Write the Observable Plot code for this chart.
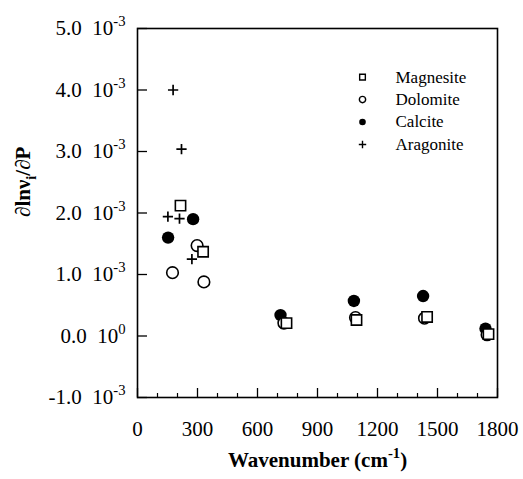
<!DOCTYPE html>
<html><head><meta charset="utf-8">
<script src="https://cdn.jsdelivr.net/npm/d3@7"></script>
<script src="https://cdn.jsdelivr.net/npm/@observablehq/plot@0.6"></script>
<style>
html,body{margin:0;padding:0;background:#fff;}
#chart svg, #chart svg text { font-family: "Liberation Serif", "DejaVu Serif", serif !important; }
</style></head><body><div id="chart"></div>
<script>
// Data (y in units of 1e-3)
const magnesiteX = [215, 328, 745, 1095, 1448, 1755];
const magnesiteY = [2.12, 1.37, 0.21, 0.26, 0.31, 0.03];
const dolomiteX = [175, 298, 332, 732, 1090, 1435, 1748];
const dolomiteY = [1.03, 1.47, 0.88, 0.21, 0.30, 0.29, 0.02];
const calciteX = [153, 278, 715, 1082, 1428, 1740];
const calciteY = [1.60, 1.90, 0.34, 0.57, 0.65, 0.12];
const aragoniteX = [152, 178, 210, 220, 272];
const aragoniteY = [1.94, 4.00, 1.91, 3.04, 1.25];

const legendNames = ["Magnesite", "Dolomite", "Calcite", "Aragonite"];
const yTicks = [-1, 0, 1, 2, 3, 4, 5];
const yTickLabels = ["-1.0\u200210^{-3}", "0.0\u200210^{0}", "1.0\u200210^{-3}", "2.0\u200210^{-3}", "3.0\u200210^{-3}", "4.0\u200210^{-3}", "5.0\u200210^{-3}"];
const xTicks = [0, 300, 600, 900, 1200, 1500, 1800];
const xMinorTicks = [100, 200, 400, 500, 700, 800, 1000, 1100, 1300, 1400, 1600, 1700];
const xLabel = "Wavenumber (cm^{-1})";
const yLabel = "\u2202ln\u03BD_{i}/\u2202P";

const pts = (X, Y) => X.map((x, i) => ({x, y: Y[i]}));

// legend layout (data units)
const legSymX = 1125, legTextX = 1290, legY0 = 4.21, legStep = 0.365;
const legend = legendNames.map((name, i) => ({name, x: legSymX, tx: legTextX, y: legY0 - i * legStep}));
const legSymbols = {Magnesite: "square", Dolomite: "circle", Calcite: "circle", Aragonite: "plus"};
const legFill = {Magnesite: "white", Dolomite: "white", Calcite: "black", Aragonite: "none"};
const legStroke = {Magnesite: "black", Dolomite: "black", Calcite: "none", Aragonite: "black"};
const legR = {Magnesite: 5.2, Dolomite: 5, Calcite: 5.5, Aragonite: 3.2};

const chart = Plot.plot({
  width: 523,
  height: 479,
  marginLeft: 137,
  marginRight: 26,
  marginTop: 28,
  marginBottom: 82,
  style: {fontFamily: "Liberation Serif", fontSize: "21px", background: "white", color: "black"},
  x: {domain: [0, 1800]},
  y: {domain: [-1, 5]},
  marks: [
    Plot.axisY({ticks: yTicks, tickSize: -10, tickPadding: 22, tickFormat: (d) => yTickLabels[yTicks.indexOf(d)], strokeWidth: 1.3, label: null}),
    Plot.axisX({ticks: xTicks, tickSize: -9, tickPadding: 33, tickFormat: (d) => String(d), strokeWidth: 1.3, label: null}),
    Plot.axisX({ticks: xMinorTicks, tickSize: -4, tickFormat: () => "", strokeWidth: 1.2, label: null}),
    Plot.frame({stroke: "black", strokeWidth: 1.6}),
    Plot.dot(pts(calciteX, calciteY), {x: "x", y: "y", symbol: "circle", r: 6.2, fill: "black", stroke: "none"}),
    Plot.dot(pts(dolomiteX, dolomiteY), {x: "x", y: "y", symbol: "circle", r: 5.8, fill: "white", stroke: "black", strokeWidth: 1.6}),
    Plot.dot(pts(magnesiteX, magnesiteY), {x: "x", y: "y", symbol: "square", r: 5.8, fill: "white", stroke: "black", strokeWidth: 1.6}),
    Plot.dot(pts(aragoniteX, aragoniteY), {x: "x", y: "y", symbol: "plus", r: 3.4, stroke: "black", strokeWidth: 1.7}),
    Plot.dot(legend, {x: "x", y: "y", symbol: (d) => legSymbols[d.name], r: (d) => legR[d.name], fill: (d) => legFill[d.name], stroke: (d) => legStroke[d.name], strokeWidth: 1.4}),
    Plot.text(legend, {x: "tx", y: "y", text: "name", textAnchor: "start", fontSize: 17}),
    Plot.text([xLabel], {text: (d) => d, frameAnchor: "bottom", dy: 69, fontWeight: "bold", fontSize: 21, letterSpacing: 1.8}),
    Plot.text([yLabel], {text: (d) => d, frameAnchor: "left", rotate: -90, dx: -114, dy: 4, fontWeight: "bold", fontSize: 21})
  ]
});

// superscript / subscript markup -> tspans
function richify(el) {
  const s = el.textContent;
  if (!/[\^_]\{/.test(s)) return;
  const fs = parseFloat(getComputedStyle(el).fontSize) || 20;
  const parts = s.split(/([\^_]\{[^}]*\})/).filter((p) => p);
  el.textContent = "";
  let shift = 0;
  for (const p of parts) {
    const t = document.createElementNS("http://www.w3.org/2000/svg", "tspan");
    let target = 0;
    if (p.startsWith("^{")) { t.textContent = p.slice(2, -1); target = -fs * 0.42; t.setAttribute("font-size", (fs * 0.7).toFixed(1)); }
    else if (p.startsWith("_{")) { t.textContent = p.slice(2, -1); target = fs * 0.28; t.setAttribute("font-size", (fs * 0.7).toFixed(1)); }
    else t.textContent = p;
    if (target - shift !== 0) t.setAttribute("dy", (target - shift).toFixed(1));
    shift = target;
    el.appendChild(t);
  }
}
document.getElementById("chart").appendChild(chart);
chart.style.fontFamily = "'Liberation Serif', serif";
chart.querySelectorAll("text").forEach(richify);
</script>
</body></html>
